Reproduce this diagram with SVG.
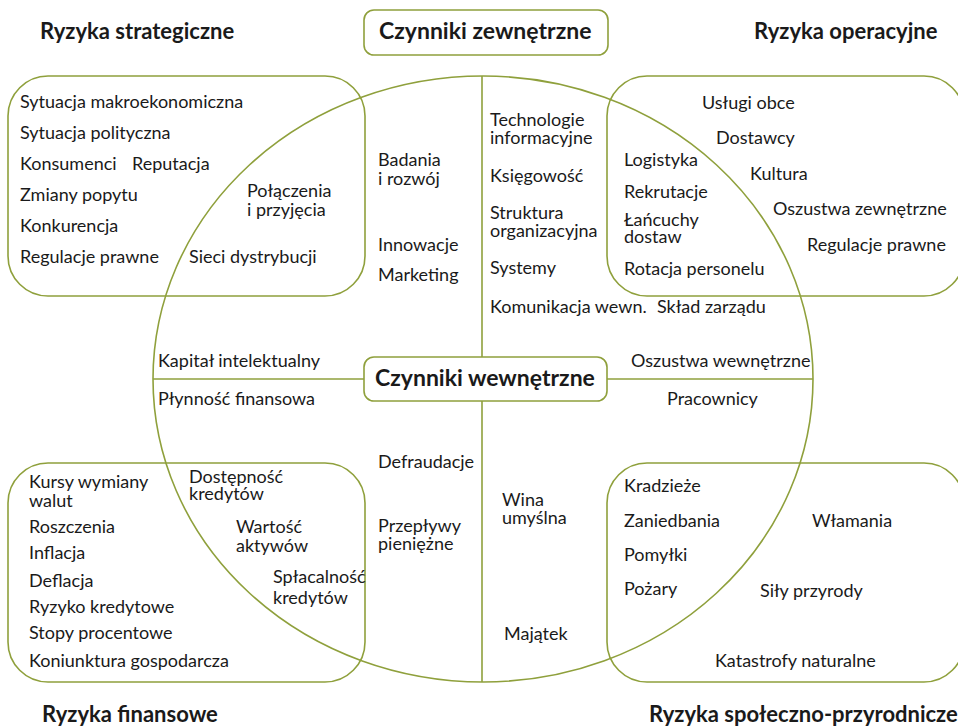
<svg xmlns="http://www.w3.org/2000/svg" width="958" height="727" viewBox="0 0 958 727">
<style>
.ln{fill:none;stroke:#8fa03c;stroke-width:1.6}
.bx{fill:#fff;stroke:#8fa03c;stroke-width:1.6}
text{font-family:Lato,"Open Sans","Liberation Sans",sans-serif;fill:#1a1a1a}
.t{font-size:18px}
.h{font-size:22px;font-weight:bold}
.hb{font-size:23px;font-weight:bold}
</style>
<rect width="958" height="727" fill="#fff"/>
<g id="regions">
<rect id="strategic-box" class="ln" x="8" y="76" width="357" height="220" rx="40"/>
<rect id="operational-box" class="ln" x="607" y="76" width="357" height="220" rx="40"/>
<rect id="financial-box" class="ln" x="8" y="463" width="357" height="219" rx="40"/>
<rect id="social-box" class="ln" x="607" y="463" width="357" height="219" rx="40"/>
<ellipse id="factors-circle" class="ln" cx="483" cy="379" rx="330" ry="303"/>
</g>
<g id="connectors">
<line class="ln" x1="482" y1="76" x2="482" y2="357"/>
<line class="ln" x1="482" y1="401" x2="482" y2="682"/>
<line class="ln" x1="153" y1="379" x2="364" y2="379"/>
<line class="ln" x1="607" y1="379" x2="813" y2="379"/>
</g>
<g id="external-factors">
<rect class="bx" x="364" y="10" width="244" height="45" rx="10"/>
<text class="hb" x="379" y="39">Czynniki zewnętrzne</text>
</g>
<g id="internal-factors">
<rect class="bx" x="364" y="357" width="243" height="44" rx="10"/>
<text class="hb" x="375" y="386">Czynniki wewnętrzne</text>
</g>
<g id="titles">
<text class="h" x="40" y="39">Ryzyka strategiczne</text>
<text class="h" x="754" y="39">Ryzyka operacyjne</text>
<text class="h" x="42" y="722">Ryzyka finansowe</text>
<text class="h" x="649" y="722">Ryzyka społeczno-przyrodnicze</text>
</g>
<g id="strategic-items">
<text class="t" x="20" y="108">Sytuacja makroekonomiczna</text>
<text class="t" x="20" y="139">Sytuacja polityczna</text>
<text class="t" x="20" y="170">Konsumenci</text>
<text class="t" x="132" y="170">Reputacja</text>
<text class="t" x="20" y="201">Zmiany popytu</text>
<text class="t" x="20" y="232">Konkurencja</text>
<text class="t" x="20" y="263">Regulacje prawne</text>
<text class="t" x="189" y="263">Sieci dystrybucji</text>
<text class="t" x="247" y="197">Połączenia</text>
<text class="t" x="247" y="216">i przyjęcia</text>
</g>
<g id="internal-upper-left">
<text class="t" x="378" y="166">Badania</text>
<text class="t" x="378" y="185">i rozwój</text>
<text class="t" x="378" y="251">Innowacje</text>
<text class="t" x="378" y="281">Marketing</text>
</g>
<g id="internal-upper-right">
<text class="t" x="490" y="126">Technologie</text>
<text class="t" x="490" y="144">informacyjne</text>
<text class="t" x="490" y="182">Księgowość</text>
<text class="t" x="490" y="219">Struktura</text>
<text class="t" x="490" y="237">organizacyjna</text>
<text class="t" x="490" y="274">Systemy</text>
<text class="t" x="490" y="313">Komunikacja wewn.</text>
<text class="t" x="657" y="313">Skład zarządu</text>
</g>
<g id="operational-items">
<text class="t" x="702" y="109">Usługi obce</text>
<text class="t" x="716" y="144">Dostawcy</text>
<text class="t" x="624" y="166">Logistyka</text>
<text class="t" x="750" y="180">Kultura</text>
<text class="t" x="624" y="198">Rekrutacje</text>
<text class="t" x="773" y="215">Oszustwa zewnętrzne</text>
<text class="t" x="624" y="226">Łańcuchy</text>
<text class="t" x="624" y="243">dostaw</text>
<text class="t" x="807" y="251">Regulacje prawne</text>
<text class="t" x="624" y="275">Rotacja personelu</text>
</g>
<g id="internal-middle">
<text class="t" x="158" y="367">Kapitał intelektualny</text>
<text class="t" x="158" y="405">Płynność finansowa</text>
<text class="t" x="631" y="367">Oszustwa wewnętrzne</text>
<text class="t" x="667" y="405">Pracownicy</text>
</g>
<g id="internal-lower">
<text class="t" x="378" y="468">Defraudacje</text>
<text class="t" x="378" y="532">Przepływy</text>
<text class="t" x="378" y="550">pieniężne</text>
<text class="t" x="502" y="506">Wina</text>
<text class="t" x="502" y="524">umyślna</text>
<text class="t" x="504" y="640">Majątek</text>
</g>
<g id="financial-items">
<text class="t" x="29" y="488">Kursy wymiany</text>
<text class="t" x="29" y="507">walut</text>
<text class="t" x="29" y="533">Roszczenia</text>
<text class="t" x="29" y="559">Inflacja</text>
<text class="t" x="29" y="587">Deflacja</text>
<text class="t" x="29" y="613">Ryzyko kredytowe</text>
<text class="t" x="29" y="639">Stopy procentowe</text>
<text class="t" x="29" y="667">Koniunktura gospodarcza</text>
<text class="t" x="189" y="483">Dostępność</text>
<text class="t" x="189" y="500">kredytów</text>
<text class="t" x="236" y="533">Wartość</text>
<text class="t" x="236" y="552">aktywów</text>
<text class="t" x="273" y="583">Spłacalność</text>
<text class="t" x="273" y="604">kredytów</text>
</g>
<g id="social-items">
<text class="t" x="624" y="492">Kradzieże</text>
<text class="t" x="624" y="527">Zaniedbania</text>
<text class="t" x="812" y="527">Włamania</text>
<text class="t" x="624" y="561">Pomyłki</text>
<text class="t" x="624" y="595">Pożary</text>
<text class="t" x="760" y="597">Siły przyrody</text>
<text class="t" x="715" y="667">Katastrofy naturalne</text>
</g>
</svg>
